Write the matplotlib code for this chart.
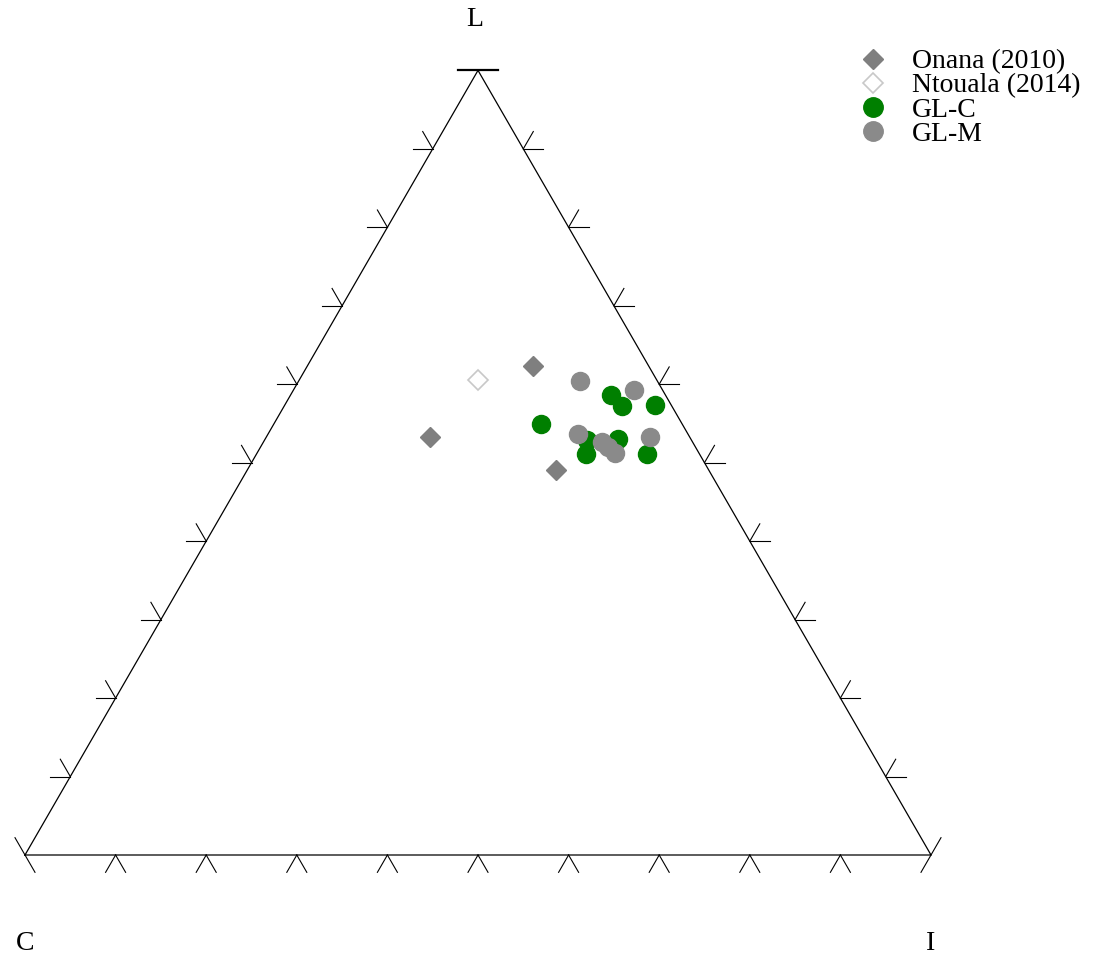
import numpy as np
import matplotlib.pyplot as plt
from matplotlib.lines import Line2D

plt.rcParams['font.family'] = ['Liberation Serif', 'DejaVu Serif']

# Ternary data (L, C, I) in percent
onana_L = [62.3, 53.3, 49.1]
onana_C = [12.8, 28.6, 16.8]
onana_I = [24.9, 18.1, 34.1]

ntouala_L = [60.5]
ntouala_C = [19.8]
ntouala_I = [19.7]

glc_L = [58.6, 57.2, 57.4, 54.9, 52.9, 53.0, 51.1, 51.1]
glc_C = [6.0, 5.5, 1.8, 15.6, 11.5, 8.1, 12.5, 5.8]
glc_I = [35.4, 37.3, 40.8, 29.5, 35.6, 38.9, 36.4, 43.1]

glm_L = [60.4, 59.3, 53.7, 52.6, 52.0, 51.2, 53.3]
glm_C = [8.5, 3.1, 12.1, 10.0, 9.7, 9.3, 4.4]
glm_I = [31.1, 37.6, 34.2, 37.4, 38.3, 39.5, 42.3]

labels = ['Onana (2010)', 'Ntouala (2014)', 'GL-C', 'GL-M']

H = np.sqrt(3) / 2


def to_xy(l, c, i):
    l, c, i = (np.asarray(v, dtype=float) for v in (l, c, i))
    s = l + c + i
    l, i = l / s, i / s
    return i + l / 2, l * H


fig = plt.figure(figsize=(10.98, 9.55), dpi=100)
ax = fig.add_axes([0, 0, 1, 1])
ax.set_xlim(-25 / 906, 1073 / 906)
ax.set_ylim(-100 / 906, 855 / 906)
ax.axis('off')

# Triangle outline
tri_x, tri_y = to_xy([0, 100, 0, 0], [100, 0, 0, 100], [0, 0, 100, 0])
ax.plot(tri_x, tri_y, color='black', lw=0.9)

# Tick marks at 10% steps
tl = 20 / 906
c60, s60 = 0.5, H
for t in range(0, 101, 10):
    # bottom edge (C -> I)
    bx, by = to_xy(0, 100 - t, t)
    dirs = []
    if t < 100:
        dirs.append((c60, -s60))
    if t > 0:
        dirs.append((-c60, -s60))
    for dx, dy in dirs:
        ax.plot([bx, bx + tl * dx], [by, by + tl * dy], color='black', lw=0.8)
    if 0 < t < 100:
        # left edge (C -> L)
        lx, ly = to_xy(t, 100 - t, 0)
        for dx, dy in [(-1, 0), (-c60, s60)]:
            ax.plot([lx, lx + tl * dx], [ly, ly + tl * dy], color='black', lw=0.8)
        # right edge (I -> L)
        rx, ry = to_xy(t, 0, 100 - t)
        for dx, dy in [(1, 0), (c60, s60)]:
            ax.plot([rx, rx + tl * dx], [ry, ry + tl * dy], color='black', lw=0.8)

# corner ticks
cx, cy = to_xy(0, 100, 0)
ax.plot([cx, cx - tl * c60], [cy, cy + tl * s60], color='black', lw=0.8)
cx, cy = to_xy(0, 0, 100)
ax.plot([cx, cx + tl * c60], [cy, cy + tl * s60], color='black', lw=0.8)
tx, ty = to_xy(100, 0, 0)
ax.plot([tx - tl, tx + tl], [ty, ty], color='black', lw=1.6)

# Vertex labels
ax.text(tx - 3 / 906, ty + 51 / 906, 'L', ha='center', va='center', fontsize=20)
ax.text(0, -88 / 906, 'C', ha='center', va='center', fontsize=20)
ax.text(906 / 906, -88 / 906, 'I', ha='center', va='center', fontsize=20)

# Data points
x, y = to_xy(onana_L, onana_C, onana_I)
ax.plot(x, y, 'D', ls='none', color='#7f7f7f', ms=10)
x, y = to_xy(ntouala_L, ntouala_C, ntouala_I)
ax.plot(x, y, 'D', ls='none', mfc='white', mec='#c8c8c8', ms=10, mew=1.2)
x, y = to_xy(glc_L, glc_C, glc_I)
ax.plot(x, y, 'o', ls='none', color='#007f00', ms=13)
x, y = to_xy(glm_L, glm_C, glm_I)
ax.plot(x, y, 'o', ls='none', color='#8a8a8a', ms=13)

handles = [
    Line2D([], [], marker='D', ls='none', color='#7f7f7f', ms=10),
    Line2D([], [], marker='D', ls='none', mfc='white', mec='#c8c8c8', ms=10, mew=1.2),
    Line2D([], [], marker='o', ls='none', color='#007f00', ms=14),
    Line2D([], [], marker='o', ls='none', color='#8a8a8a', ms=14),
]
fig.legend(handles, labels, loc='upper left', bbox_to_anchor=(859 / 1098, 1 - 49 / 955),
           frameon=False, fontsize=20, handlelength=1.0, handletextpad=0.9,
           labelspacing=-0.05, borderpad=0, borderaxespad=0)

fig.savefig('out.png', dpi=100)
